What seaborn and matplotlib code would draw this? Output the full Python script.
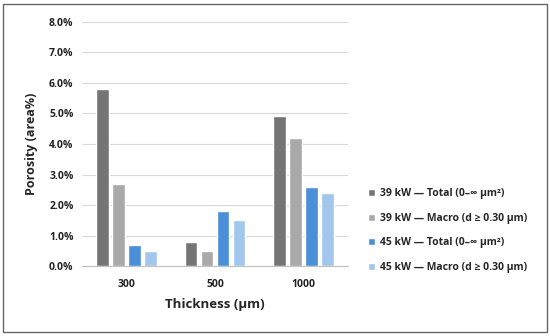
import matplotlib
matplotlib.use("Agg")
import matplotlib.pyplot as plt
from matplotlib.patches import Rectangle
from matplotlib.ticker import PercentFormatter
import seaborn as sns
import pandas as pd

thickness = ["300", "500", "1000"]
series = ["39 kW — Total (0–∞ μm²)",
          "39 kW — Macro (d ≥ 0.30 μm)",
          "45 kW — Total (0–∞ μm²)",
          "45 kW — Macro (d ≥ 0.30 μm)"]
kw39_total = [5.8, 0.8, 4.9]
kw39_macro = [2.7, 0.5, 4.2]
kw45_total = [0.7, 1.8, 2.6]
kw45_macro = [0.5, 1.5, 2.4]
colors = ["#757575", "#a9a9a9", "#4a8fd8", "#a2c7ec"]

rows = []
for name, vals in zip(series, [kw39_total, kw39_macro, kw45_total, kw45_macro]):
    for t, v in zip(thickness, vals):
        rows.append({"Thickness": t, "Series": name, "Porosity": v})
df = pd.DataFrame(rows)

sns.set_style("white")
plt.rcParams["font.family"] = ["Open Sans", "DejaVu Sans"]

fig = plt.figure(figsize=(5.5, 3.36), dpi=100)
ax = fig.add_axes([0.149, 0.208, 0.484, 0.727])

sns.barplot(data=df, x="Thickness", y="Porosity", hue="Series",
            order=thickness, hue_order=series, palette=colors,
            width=0.72, gap=0.2, saturation=1, ax=ax)

ax.set_ylim(0, 8)
ax.set_yticks(range(0, 9))
ax.yaxis.set_major_formatter(PercentFormatter(decimals=1))
ax.grid(axis="y", color="#d9d9d9", linewidth=0.8)
ax.set_axisbelow(True)
for s in ["left", "right", "top"]:
    ax.spines[s].set_visible(False)
ax.spines["bottom"].set_color("#bfbfbf")
ax.tick_params(axis="x", length=0, labelsize=7.5, colors="#222222", pad=9)
ax.tick_params(axis="y", length=0, labelsize=7.5, colors="#222222", pad=6)
for lab in ax.get_xticklabels() + ax.get_yticklabels():
    lab.set_fontweight("bold")
ax.set_xlabel("Thickness (μm)", fontsize=9.5, fontweight="bold", labelpad=6)
ax.set_ylabel("Porosity (area%)", fontsize=9, fontweight="bold", labelpad=8)

ax.legend(loc="center left", bbox_to_anchor=(1.04, 0.145), frameon=False,
          handlelength=0.7, handleheight=0.7, handletextpad=0.4,
          labelspacing=1.3, prop={"weight": "bold", "size": 7.5})

fig.patches.append(Rectangle((0.006, 0.012), 0.988, 0.976, transform=fig.transFigure,
                             fill=False, edgecolor="#666666", linewidth=1))

fig.savefig("out.png", dpi=100)
